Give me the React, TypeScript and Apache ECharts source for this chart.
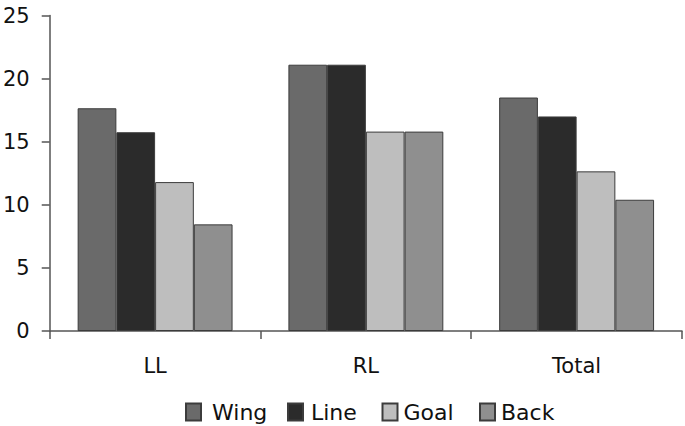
import React, { useEffect, useRef } from "react";
import * as echarts from "echarts";

const categories = ["LL", "RL", "Total"];
const seriesNames = ["Wing", "Line", "Goal", "Back"];
const wing = [17.65, 21.1, 18.5];
const line = [15.75, 21.1, 17.0];
const goal = [11.8, 15.8, 12.65];
const back = [8.45, 15.8, 10.4];
const yTicks = [0, 5, 10, 15, 20, 25];

const FONT = "'DejaVu Sans', sans-serif";

export default function App() {
  const ref = useRef<HTMLDivElement>(null);
  useEffect(() => {
    const chart = echarts.init(ref.current!, null, { renderer: "svg" });
    const mk = (name: string, data: number[], color: string) => ({
      name,
      type: "bar",
      data,
      barGap: "0%",
      barCategoryGap: "26.5%",
      itemStyle: { color, borderColor: "#3c3c3c", borderWidth: 1 },
    });
    const legendLeft = [185, 287, 381.5, 479];
    const legendPad = [6, 3, 1, 1];
    const legends = seriesNames.map((n, i) => ({
      left: legendLeft[i],
      top: 401,
      padding: 0,
      itemWidth: 15,
      itemHeight: 17,
      icon: "rect",
      textStyle: { fontSize: 22, color: "#111", fontFamily: FONT, padding: [0, 0, 0, legendPad[i]] },
      data: [n],
    }));
    chart.setOption({
      animation: false,
      backgroundColor: "#ffffff",
      textStyle: { fontFamily: FONT },
      grid: { left: 48, right: 3, top: 15.5, height: 315.5, containLabel: false },
      legend: legends,
      xAxis: {
        type: "category",
        data: categories,
        axisLine: { show: true, lineStyle: { color: "#555", width: 1.5 } },
        axisTick: { show: true, length: 8, lineStyle: { color: "#555", width: 1.5 } },
        axisLabel: { fontSize: 21, color: "#111", margin: 24, fontFamily: FONT },
      },
      yAxis: {
        type: "value",
        min: yTicks[0],
        max: yTicks[yTicks.length - 1],
        interval: 5,
        splitLine: { show: false },
        axisLine: { show: true, lineStyle: { color: "#555", width: 1.5 } },
        axisTick: { show: true, length: 8, lineStyle: { color: "#555", width: 1.5 } },
        axisLabel: { fontSize: 21, color: "#111", margin: 20, fontFamily: FONT },
      },
      series: [
        mk("Wing", wing, "#6a6a6a"),
        mk("Line", line, "#2b2b2b"),
        mk("Goal", goal, "#bebebe"),
        mk("Back", back, "#8f8f8f"),
      ],
    });
    return () => chart.dispose();
  }, []);
  return <div ref={ref} style={{ width: 685, height: 426, position: "absolute", left: 0, top: 0 }} />;
}
